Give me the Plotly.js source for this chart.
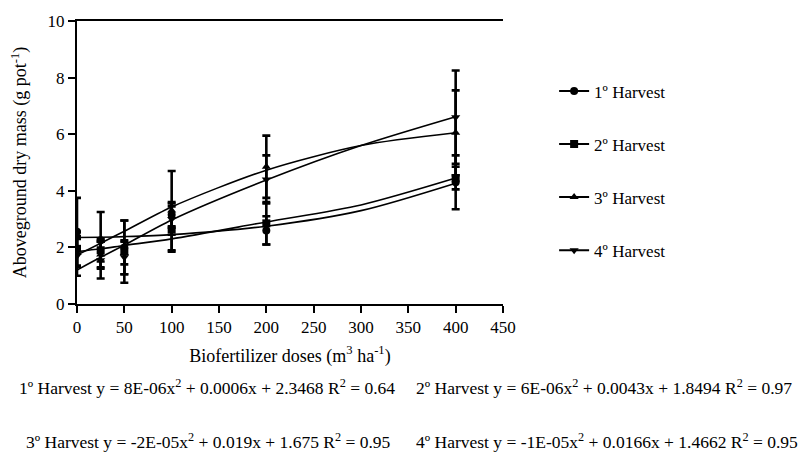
<!DOCTYPE html>
<html><head><meta charset="utf-8">
<script src="https://cdn.plot.ly/plotly-3.0.1.min.js"></script>
<style>body{margin:0;background:#fff}#chart{width:805px;height:454px}</style>
</head><body><div id="chart"></div>
<script>
// Doses (m3/ha)
const doses = [0, 25, 50, 100, 200, 400];
const seriesNames = ["1º Harvest", "2º Harvest", "3º Harvest", "4º Harvest"];
// Means
const h1 = [2.55, 2.25, 2.0, 3.15, 2.6, 4.3];
const h2 = [1.95, 1.9, 1.85, 2.65, 2.85, 4.45];
const h3 = [1.8, 1.75, 1.8, 3.3, 4.85, 6.05];
const h4 = [1.7, 1.55, 1.65, 3.0, 4.4, 6.6];
// Error (± half range)
const e1 = [1.2, 1.0, 0.95, 0.45, 0.5, 0.95];
const e2 = [0.6, 0.4, 1.1, 0.8, 0.75, 0.4];
const e3 = [0.5, 0.45, 0.4, 1.4, 1.1, 1.5];
const e4 = [0.7, 0.65, 0.6, 0.55, 0.85, 1.65];
// Fitted trend curves
const fitX = [0, 25, 50, 100, 200, 300, 400];
const fit1 = [2.35, 2.36, 2.38, 2.45, 2.75, 3.3, 4.27];
const fit2 = [1.85, 1.95, 2.07, 2.3, 2.9, 3.5, 4.45];
const fit3 = [1.73, 2.15, 2.57, 3.43, 4.73, 5.6, 6.05];
const fit4 = [1.2, 1.65, 2.08, 2.97, 4.38, 5.6, 6.62];
const symbols = ["circle", "square", "triangle-up", "triangle-down"];
const equations = [
  "1º Harvest y = 8E-06x<sup>2</sup> + 0.0006x + 2.3468 R<sup>2</sup> = 0.64",
  "2º Harvest y = 6E-06x<sup>2</sup> + 0.0043x + 1.8494 R<sup>2</sup> = 0.97",
  "3º Harvest y = -2E-05x<sup>2</sup> + 0.019x + 1.675 R<sup>2</sup> = 0.95",
  "4º Harvest y = -1E-05x<sup>2</sup> + 0.0166x + 1.4662 R<sup>2</sup> = 0.95"
];

const means = [h1, h2, h3, h4];
const errs = [e1, e2, e3, e4];
const fits = [fit1, fit2, fit3, fit4];
const FONT = "'Liberation Serif', 'Times New Roman', serif";

const traces = [];
for (let i = 0; i < 4; i++) {
  traces.push({
    x: fitX, y: fits[i], mode: "lines", line: {color: "#000", width: 1.6, shape: "spline", smoothing: 0.8},
    showlegend: false, hoverinfo: "skip"
  });
}
for (let i = 0; i < 4; i++) {
  traces.push({
    x: doses, y: means[i], mode: "markers",
    marker: {symbol: symbols[i], size: 8, color: "#000"},
    error_y: {type: "data", array: errs[i], visible: true, color: "#000", thickness: 2.6, width: 4},
    showlegend: false
  });
}
for (let i = 0; i < 4; i++) {
  traces.push({
    x: [null], y: [null], mode: "lines+markers", name: seriesNames[i],
    legendgroup: "g" + i,
    marker: {symbol: symbols[i], size: 8, color: "#000"},
    line: {color: "#000", width: 2}
  });
}

const EQ = 17.5;
const layout = {
  width: 805, height: 454,
  margin: {l: 77, r: 302, t: 21, b: 150},
  paper_bgcolor: "#fff", plot_bgcolor: "#fff",
  font: {family: FONT, size: 17, color: "#000"},
  xaxis: {
    range: [0, 450], dtick: 50, tick0: 0, showgrid: false, zeroline: false,
    showline: true, linecolor: "#000", linewidth: 2, mirror: true,
    ticks: "outside", ticklen: 7, tickwidth: 2, tickcolor: "#000",
    tickfont: {family: FONT, size: 17},
    title: {text: "Biofertilizer doses (m<sup>3</sup> ha<sup>-1</sup>)", font: {family: FONT, size: 18}, standoff: 13}
  },
  yaxis: {
    range: [0, 10], dtick: 2, tick0: 0, showgrid: false, zeroline: false,
    showline: true, linecolor: "#000", linewidth: 2,
    ticks: "outside", ticklen: 7, tickwidth: 2, tickcolor: "#000",
    tickfont: {family: FONT, size: 17},
    title: {text: "Aboveground dry mass (g pot<sup>-1</sup>)", font: {family: FONT, size: 18}, standoff: 16}
  },
  legend: {
    x: 1.12, y: 0.815, xanchor: "left", yanchor: "top",
    font: {family: FONT, size: 17}, tracegroupgap: 28, itemwidth: 30,
    bgcolor: "rgba(0,0,0,0)"
  },
  annotations: [
    {text: equations[0], xref: "paper", yref: "paper", x: (17 - 77) / 426, y: -(387 - 304) / 283, xanchor: "left", yanchor: "middle", showarrow: false, font: {family: FONT, size: EQ}},
    {text: equations[1], xref: "paper", yref: "paper", x: (414 - 77) / 426, y: -(387 - 304) / 283, xanchor: "left", yanchor: "middle", showarrow: false, font: {family: FONT, size: EQ}},
    {text: equations[2], xref: "paper", yref: "paper", x: (24 - 77) / 426, y: -(441 - 304) / 283, xanchor: "left", yanchor: "middle", showarrow: false, font: {family: FONT, size: EQ}},
    {text: equations[3], xref: "paper", yref: "paper", x: (414 - 77) / 426, y: -(441 - 304) / 283, xanchor: "left", yanchor: "middle", showarrow: false, font: {family: FONT, size: EQ}}
  ]
};
Plotly.newPlot("chart", traces, layout, {displayModeBar: false, staticPlot: true});
</script></body></html>
